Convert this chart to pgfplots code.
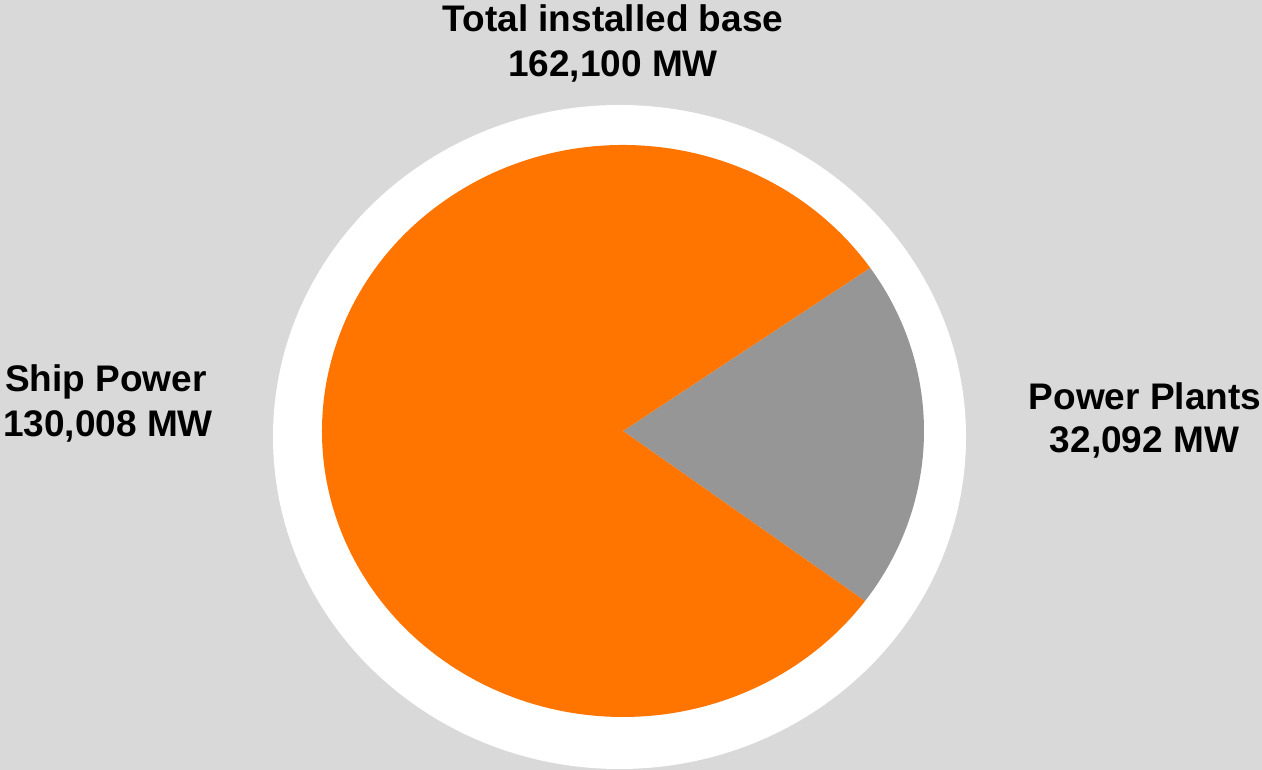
\documentclass[border=0pt]{standalone}
\usepackage{pgfplots}
\usepackage{pgfplotstable}
\pgfplotsset{compat=1.18}
\usepackage{fontspec}
\setmainfont{Liberation Sans}
\definecolor{bg}{HTML}{D9D9D9}
\definecolor{shiporange}{HTML}{FF7500}
\definecolor{plantgray}{HTML}{969696}

\pgfplotstableread{
segment value
ShipPower 130008
PowerPlants 32092
}\piedata

\begin{document}%
\begin{tikzpicture}
\pgfplotstablegetelem{0}{value}\of\piedata
\let\shipval\pgfplotsretval
\pgfplotstablegetelem{1}{value}\of\piedata
\let\plantval\pgfplotsretval
\pgfkeys{/pgf/fpu=true,/pgf/fpu/output format=fixed}
\pgfmathsetmacro{\plantspan}{360*\plantval/(\shipval+\plantval)}
\pgfkeys{/pgf/fpu=false}
\pgfmathsetmacro{\plantstart}{-0.85-\plantspan/2}
\pgfmathsetmacro{\plantend}{-0.85+\plantspan/2}
\pgfmathsetmacro{\shipend}{\plantstart+360}
\begin{axis}[
  scale only axis, width=631pt, height=385pt,
  xmin=0, xmax=1262, ymin=0, ymax=770,
  hide axis, clip=false,
]
\fill[bg] (axis cs:0,0) rectangle (axis cs:1262,770);
\coordinate (bl) at (axis cs:0,0);
\coordinate (tr) at (axis cs:1262,770);
\fill[white] (axis cs:619.5,333) ellipse [x radius=173.25pt, y radius=166pt];
% Power Plants slice
\fill[plantgray] (axis cs:623,339) -- ++(\plantstart:150.5pt and 143pt)
  arc[start angle=\plantstart, end angle=\plantend, x radius=150.5pt, y radius=143pt] -- cycle;
% Ship Power slice
\fill[shiporange] (axis cs:623,339) -- ++(\plantend:150.5pt and 143pt)
  arc[start angle=\plantend, end angle=\shipend, x radius=150.5pt, y radius=143pt] -- cycle;
\begin{scope}[every node/.style={anchor=base, inner sep=0pt, font=\fontsize{18.5pt}{22.5pt}\selectfont\bfseries}]
\node at (axis cs:613,738) {Total installed base};
\node at (axis cs:613,693) {162,100 MW};
\node at (axis cs:106,378) {Ship Power};
\node at (axis cs:108,333) {130,008 MW};
\node at (axis cs:1145,360) {Power Plants};
\node at (axis cs:1144.5,317) {32,092 MW};
\end{scope}
\end{axis}
\pgfresetboundingbox
\path[use as bounding box] (bl) rectangle (tr);
\end{tikzpicture}%
\end{document}
